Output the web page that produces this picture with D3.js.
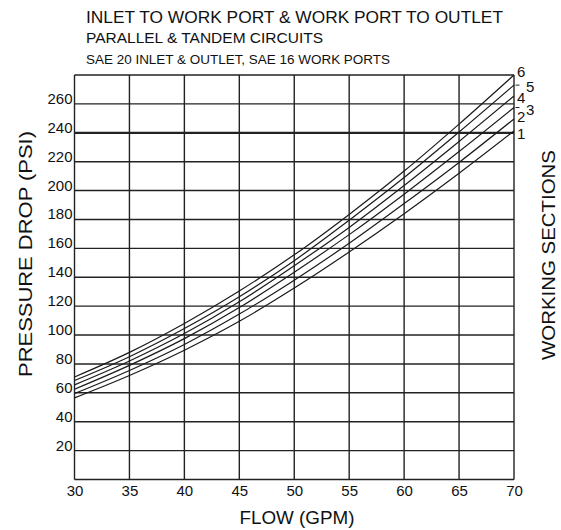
<!DOCTYPE html>
<html>
<head>
<meta charset="utf-8">
<script src="https://cdn.jsdelivr.net/npm/d3@7"></script>
<style>
  html, body { margin: 0; padding: 0; background: #fff; }
  svg { display: block; font-family: "Liberation Sans", Arial, sans-serif; }
</style>
</head>
<body>
<svg id="chart" width="561" height="530"></svg>
<script>
// ---- data ----
const flowGPM = [30, 35, 40, 45, 50, 55, 60, 65, 70];
const sections = ["1", "2", "3", "4", "5", "6"];
const sec1 = [56.5, 72, 89.5, 109.5, 132.5, 157.5, 184, 212, 241.3];
const sec2 = [59.5, 75.5, 93.5, 114.5, 138, 163.5, 191, 219.5, 249.6];
const sec3 = [62.5, 79, 97.5, 119, 143.5, 169.5, 197.5, 227, 257.5];
const sec4 = [65.5, 82, 101, 123, 148, 174.5, 203.5, 234, 265.5];
const sec5 = [68.5, 85, 104.5, 126.5, 151.5, 179.5, 209, 240.5, 273];
const sec6 = [71, 88, 108, 130.5, 155.5, 183.5, 213.5, 246, 280];
const xTicks = [30, 35, 40, 45, 50, 55, 60, 65, 70];
const yTicks = [20, 40, 60, 80, 100, 120, 140, 160, 180, 200, 220, 240, 260];
const yGrid = [0, 20, 40, 60, 80, 100, 120, 140, 160, 180, 200, 220, 240, 260, 280];
const titleLines = [
  "INLET TO WORK PORT & WORK PORT TO OUTLET",
  "PARALLEL & TANDEM CIRCUITS",
  "SAE 20 INLET & OUTLET, SAE 16 WORK PORTS"
];
const xTitle = "FLOW (GPM)";
const yTitle = "PRESSURE DROP (PSI)";
const rightTitle = "WORKING SECTIONS";

const seriesValues = [sec1, sec2, sec3, sec4, sec5, sec6];

// ---- layout ----
const svg = d3.select("#chart");
const L = 74.5, R = 514, T = 75, B = 479.5;
const x = d3.scaleLinear().domain([30, 70]).range([L, R]);
const y = d3.scaleLinear().domain([0, 280]).range([B, T]);

// grid
const grid = svg.append("g");
grid.selectAll("line.h").data(yGrid).join("line")
  .attr("x1", L).attr("x2", R)
  .attr("y1", d => y(d)).attr("y2", d => y(d))
  .attr("stroke", "#222")
  .attr("stroke-width", d => d === 240 ? 2.2 : 1.4);
grid.selectAll("line.v").data(xTicks).join("line")
  .attr("y1", T).attr("y2", B)
  .attr("x1", d => x(d)).attr("x2", d => x(d))
  .attr("stroke", "#222").attr("stroke-width", 1.4);

// axes (labels only, via d3 axis)
const xAxis = svg.append("g").attr("transform", `translate(0,${B})`)
  .call(d3.axisBottom(x).tickValues(xTicks).tickSize(0).tickPadding(5));
xAxis.select(".domain").remove();
xAxis.selectAll("text").attr("font-size", 15).attr("fill", "#111")
  .attr("font-family", "Liberation Sans, Arial, sans-serif")
  .attr("dy", "0").attr("y", 16);

const yAxis = svg.append("g").attr("transform", `translate(${L},0)`)
  .call(d3.axisLeft(y).tickValues(yTicks).tickSize(0).tickPadding(2));
yAxis.select(".domain").remove();
yAxis.selectAll("text").attr("font-size", 15).attr("fill", "#111")
  .attr("font-family", "Liberation Sans, Arial, sans-serif")
  .attr("dy", "-0.5");

// curves
const line = d3.line()
  .x((d, i) => x(flowGPM[i]))
  .y(d => y(d))
  .curve(d3.curveMonotoneX);
svg.append("g").selectAll("path").data(seriesValues).join("path")
  .attr("d", d => line(d))
  .attr("fill", "none")
  .attr("stroke", "#1a1a1a")
  .attr("stroke-width", 1.2);

// section labels at right
const labelPos = [
  { dx: 3, dy: 8 },   // 1
  { dx: 3, dy: 3 },   // 2
  { dx: 12, dy: 7 },  // 3
  { dx: 3, dy: 7 },   // 4
  { dx: 12, dy: 7 },  // 5
  { dx: 3, dy: 1.5 }  // 6
];
const lab = svg.append("g");
sections.forEach((s, i) => {
  const endY = y(seriesValues[i][seriesValues[i].length - 1]);
  lab.append("text")
    .attr("x", R + labelPos[i].dx)
    .attr("y", endY + labelPos[i].dy)
    .attr("font-size", 15).attr("fill", "#111")
    .text(s);
  if (s === "5" || s === "3") {
    lab.append("line")
      .attr("x1", R + 1.5).attr("x2", R + 5.5)
      .attr("y1", endY).attr("y2", endY)
      .attr("stroke", "#222").attr("stroke-width", 1);
  }
});

// titles
const tSizes = [17, 15.3, 13.4];
const tY = [22.5, 42.5, 63.5];
const tLen = [417, 237, 304];
titleLines.forEach((t, i) => {
  svg.append("text").attr("x", 86).attr("y", tY[i])
    .attr("font-size", tSizes[i]).attr("fill", "#111")
    .attr("textLength", tLen[i]).attr("lengthAdjust", "spacingAndGlyphs")
    .text(t);
});

svg.append("text").attr("x", 297).attr("y", 524)
  .attr("text-anchor", "middle").attr("font-size", 18.5).attr("fill", "#111")
  .attr("textLength", 115).attr("lengthAdjust", "spacingAndGlyphs")
  .text(xTitle);

svg.append("text")
  .attr("transform", `translate(32,254) rotate(-90)`)
  .attr("text-anchor", "middle").attr("font-size", 19).attr("fill", "#111")
  .attr("textLength", 246).attr("lengthAdjust", "spacingAndGlyphs")
  .text(yTitle);

svg.append("text")
  .attr("transform", `translate(555,255) rotate(-90)`)
  .attr("text-anchor", "middle").attr("font-size", 18.5).attr("fill", "#111")
  .attr("textLength", 210).attr("lengthAdjust", "spacingAndGlyphs")
  .text(rightTitle);
</script>
</body>
</html>
